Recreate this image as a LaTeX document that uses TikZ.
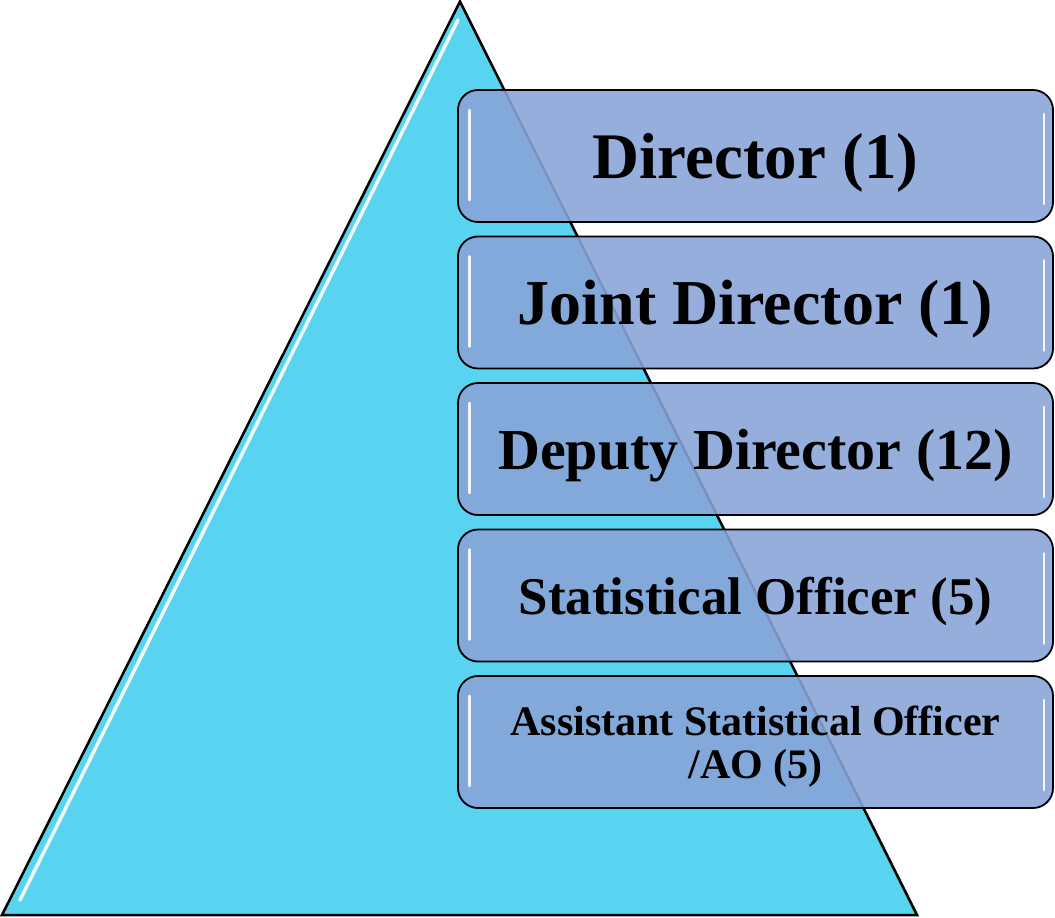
\documentclass[tikz,border=0pt]{standalone}
\usepackage{fontspec}
\setmainfont{Liberation Serif}
\usetikzlibrary{shapes}

\definecolor{pyramidfill}{HTML}{58D4F1}
\definecolor{postfill}{HTML}{88A4D8}

\begin{document}
\begin{tikzpicture}[x=1pt, y=-1pt]
\tikzset{
   node distance = 146.5pt,
   post/.style = {rectangle, draw, line width = 1.8pt, rounded corners = 20pt, fill = postfill, fill opacity = 0.89, text opacity = 1, minimum width = 595pt, minimum height = 132pt, text depth = 0pt, align = center},
   gloss/.style = {draw = white, line width = 3.5pt, line cap = round, opacity = 0.9}
}
  \useasboundingbox (0,0) rectangle (1055,918);

  % pyramid
  \coordinate (apex) at (460,1.5);
  \coordinate (baseR) at (917,915);
  \coordinate (baseL) at (2,915);
  \draw[line width = 2.5pt, fill = pyramidfill] (apex) -- (baseR) -- (baseL) -- cycle;
  \coordinate (shineT) at (458,20);
  \coordinate (shineB) at (20,900);
  \draw[gloss] (shineT) -- (shineB);

  % posts
  \node[post, font = \bfseries\fontsize{65}{70}\selectfont] (dir) at (755.5,156) {Director (1)};
  \node[post, font = \bfseries\fontsize{64}{70}\selectfont] (jdir) [below of = dir] {Joint Director (1)};
  \node[post, font = \bfseries\fontsize{58}{64}\selectfont] (ddir) [below of = jdir] {Deputy Director (12)};
  \node[post, font = \bfseries\fontsize{53}{58}\selectfont] (so) [below of = ddir] {Statistical Officer (5)};
  \node[post, font = \bfseries\fontsize{42}{43}\selectfont] (aso) [below of = so] {Assistant Statistical Officer\\/AO (5)};

  \foreach \b in {dir, jdir, ddir, so, aso} {
    \draw[gloss, line width = 2.8pt] ([shift={(12pt,46pt)}]\b.west) -- ([shift={(12pt,-44pt)}]\b.west);
    \draw[gloss, line width = 2.8pt] ([shift={(-10pt,42pt)}]\b.east) -- ([shift={(-10pt,-48pt)}]\b.east);
  }
\end{tikzpicture}
\end{document}
